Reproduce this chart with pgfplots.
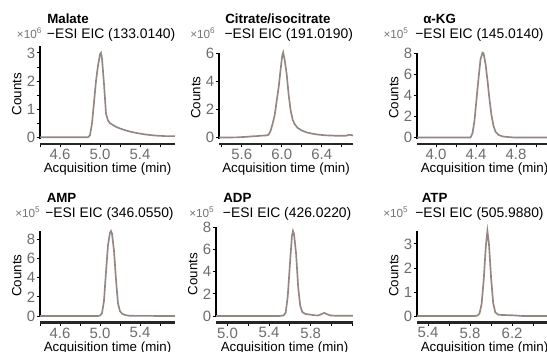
\documentclass[border=0pt]{standalone}
\usepackage{fontspec}
\setmainfont{Liberation Sans}
\usepackage{pgfplots}
\pgfplotsset{compat=1.18}
\definecolor{trace}{RGB}{148,134,130}
\definecolor{tickgray}{RGB}{108,108,108}
\definecolor{subgray}{RGB}{115,115,115}

\pgfplotsset{
  chrom/.style={
    scale only axis,
    anchor=south west,
    axis x line=bottom, axis y line=left,
    axis line style={-},
    x axis line style={line width=1.8pt, color=black!85},
    y axis line style={line width=0.9pt, color=black},
    axis x line shift=4.1pt,
    tick align=outside,
    major tick length=2.5pt, minor tick length=2.5pt,
    every tick/.style={black, line width=0.7pt},
    /pgf/number format/assume math mode=true,
    tick label style={font=\fontsize{11.2}{12}\selectfont, text=tickgray},
    xticklabel style={inner sep=1.2pt, /pgf/number format/fixed, /pgf/number format/fixed zerofill, /pgf/number format/precision=1},
    yticklabel style={inner sep=0.9pt, /pgf/number format/fixed},
    scaled ticks=false,
    clip=false,
    xlabel={Acquisition time (min)},
    ylabel={Counts},
    label style={font=\fontsize{10.4}{12}\selectfont, text=tickgray, inner sep=0pt},
    every axis x label/.style={at={(axis description cs:0.5,0)}, anchor=base, yshift=-25.6pt},
    every axis y label/.style={at={(axis description cs:0,0.48)}, anchor=center, rotate=90, yshift=17.5pt},
  },
  tr/.style={trace, line width=1.25pt},
}

\begin{document}
\begin{tikzpicture}
\useasboundingbox (0,0) rectangle (410.25pt,263.25pt);

% ---------------- Malate
\begin{axis}[chrom, at={(30pt,159.375pt)}, width=101.25pt, height=69.45pt,
  xmin=4.40, xmax=5.75, ymin=-0.035, ymax=3.25,
  xtick={4.6,5.0,5.4}, minor xtick={4.4,4.8,5.2,5.6},
  ytick={0,1,2,3}, minor ytick={0.5,1.5,2.5}]
\addplot[tr] table {
4.40 0.01
4.88 0.01
4.90 0.08
4.92 0.5
4.94 1.25
4.96 2.0
4.98 2.55
5.00 2.95
5.01 3.0
5.02 2.8
5.04 1.9
5.06 0.85
5.08 0.6
5.10 0.51
5.13 0.44
5.16 0.38
5.20 0.32
5.25 0.26
5.30 0.21
5.35 0.17
5.40 0.14
5.45 0.11
5.50 0.09
5.55 0.07
5.60 0.06
5.65 0.05
5.70 0.05
5.75 0.05
};
\end{axis}

% ---------------- Citrate/isocitrate
\begin{axis}[chrom, at={(164.25pt,159.375pt)}, width=100.5pt, height=64.05pt,
  xmin=5.373, xmax=6.713, ymin=-0.071, ymax=6.0,
  xtick={5.6,6.0,6.4}, minor xtick={5.4,5.8,6.2,6.6},
  ytick={0,2,4,6}]
\addplot[tr] table {
5.373 0.0
5.45 0.0
5.55 0.01
5.60 0.03
5.65 0.05
5.70 0.08
5.75 0.10
5.80 0.13
5.85 0.15
5.87 0.2
5.89 0.5
5.91 1.0
5.93 1.6
5.95 2.6
5.97 3.6
5.99 4.9
6.005 5.8
6.015 6.05
6.03 5.5
6.05 4.5
6.07 3.0
6.09 1.9
6.11 1.25
6.13 0.95
6.16 0.68
6.20 0.5
6.25 0.36
6.30 0.28
6.35 0.22
6.40 0.18
6.45 0.15
6.50 0.14
6.55 0.12
6.60 0.13
6.64 0.12
6.67 0.19
6.69 0.18
6.713 0.14
};
\end{axis}

% ---------------- alpha-KG
\begin{axis}[chrom, at={(312.75pt,159.375pt)}, width=101.25pt, height=64.05pt,
  xmin=3.81, xmax=5.16, ymin=-0.095, ymax=8.0,
  xtick={4.0,4.4,4.8}, minor xtick={3.8,4.2,4.6,5.0},
  ytick={0,2,4,6,8}]
\addplot[tr] table {
3.81 0
4.345 0
4.365 0.4
4.385 1.6
4.405 3.6
4.425 5.6
4.445 7.4
4.465 8.05
4.475 8.0
4.495 7.0
4.515 5.4
4.535 3.6
4.555 2.1
4.575 1.1
4.595 0.55
4.625 0.25
4.665 0.1
4.725 0.04
4.785 0
5.16 0
};
\end{axis}

% ---------------- AMP
\begin{axis}[chrom, at={(30pt,25.5pt)}, width=101.25pt, height=64.5pt,
  xmin=4.40, xmax=5.75, ymin=-0.104, ymax=8.87,
  xtick={4.6,5.0,5.4}, minor xtick={4.4,4.8,5.2,5.6},
  ytick={0,2,4,6,8}]
\addplot[tr] table {
4.40 0
4.98 0
5.00 0.05
5.02 0.3
5.04 1.6
5.06 4.6
5.08 7.4
5.10 8.7
5.11 8.87
5.12 8.6
5.14 6.8
5.16 3.8
5.18 1.3
5.20 0.5
5.22 0.25
5.25 0.1
5.30 0.02
5.75 0
};
\end{axis}

% ---------------- ADP
\begin{axis}[chrom, at={(162pt,25.5pt)}, width=102.75pt, height=67.3pt,
  xmin=4.89, xmax=6.207, ymin=-0.09, ymax=8.0,
  xtick={5.0,5.4,5.8}, minor xtick={5.2,5.6,6.0,6.2},
  ytick={0,2,4,6,8}]
\addplot[tr] table {
4.89 0
5.50 0
5.54 0.05
5.56 0.3
5.58 1.8
5.60 4.6
5.62 7.2
5.63 7.67
5.64 7.4
5.66 5.6
5.68 2.6
5.70 0.9
5.72 0.35
5.75 0.18
5.80 0.12
5.84 0.06
5.87 0.05
5.90 0.15
5.93 0.28
5.96 0.15
5.99 0.05
6.05 0.02
6.207 0.02
};
\end{axis}

% ---------------- ATP
\begin{axis}[chrom, at={(312.75pt,25.5pt)}, width=101.25pt, height=64.5pt,
  xmin=5.295, xmax=6.58, ymin=-0.042, ymax=3.54,
  xtick={5.4,5.8,6.2}, minor xtick={5.6,6.0,6.4},
  ytick={0,1,2,3}]
\addplot[tr] table {
5.295 0
5.85 0
5.87 0.02
5.89 0.1
5.91 0.5
5.93 1.5
5.95 2.9
5.965 3.54
5.98 3.0
6.00 1.6
6.02 0.55
6.04 0.15
6.07 0.05
6.12 0.04
6.20 0.03
6.30 0.0
6.58 0
};
\end{axis}

% ---------------- titles and subtitles
\begin{scope}[x=0.75pt, y=0.75pt, every node/.style={inner sep=0pt, anchor=base west}]
\def\tfont{\fontsize{10}{12}\selectfont\bfseries}
\def\sfont{\fontsize{10.4}{12}\selectfont}
\def\xfont{\fontsize{8.8}{10}\selectfont\color{subgray}}
\node at (47,327.5)    {\tfont Malate};
\node at (225,327.5)   {\tfont Citrate/isocitrate};
\node at (423,327.5)   {\tfont α-KG};
\node at (46.5,149)    {\tfont AMP};
\node at (223,149)     {\tfont ADP};
\node at (421.5,149)   {\tfont ATP};
\node at (16.7,312.5)  {\xfont ×10\textsuperscript{6}};
\node at (46.7,312.5)  {\sfont −ESI EIC (133.0140)};
\node at (190,312.5)   {\xfont ×10\textsuperscript{6}};
\node at (224.3,312.5) {\sfont −ESI EIC (191.0190)};
\node at (383.3,312.5) {\xfont ×10\textsuperscript{5}};
\node at (415,312.5)   {\sfont −ESI EIC (145.0140)};
\node at (15,133.2)    {\xfont ×10\textsuperscript{5}};
\node at (45,133.2)    {\sfont −ESI EIC (346.0550)};
\node at (189,133.2)   {\xfont ×10\textsuperscript{5}};
\node at (222.7,133.2) {\sfont −ESI EIC (426.0220)};
\node at (383,133.2)   {\xfont ×10\textsuperscript{5}};
\node at (415,133.2)   {\sfont −ESI EIC (505.9880)};
\end{scope}
\end{tikzpicture}
\end{document}
